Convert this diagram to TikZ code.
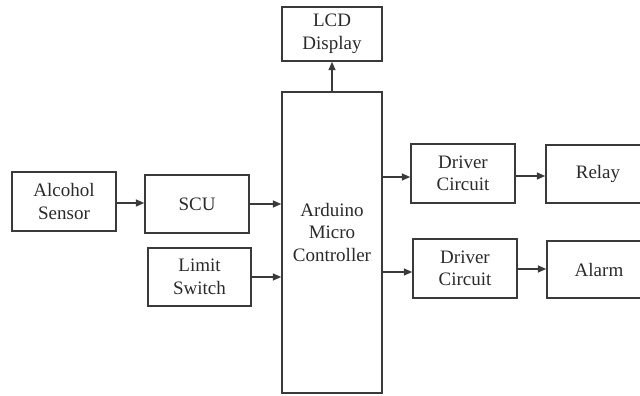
\documentclass[tikz,border=0pt]{standalone}
\usepackage{fontspec}
\setmainfont{Liberation Serif}
\usetikzlibrary{arrows.meta}
\definecolor{ln}{HTML}{3A3A3A}
\definecolor{tx}{HTML}{2A2A2A}
\begin{document}
\begin{tikzpicture}[x=1pt,y=-1pt,
  blk/.style={draw=ln,line width=1.5pt,rectangle,inner sep=0pt,align=center,
    text=tx,font=\fontsize{19}{22.5}\selectfont},
  conn/.style={draw=ln,line width=1.5pt,-{Triangle[length=8.5pt,width=7pt]}},
  lbl/.style={align=center,text=tx,font=\fontsize{19}{22.5}\selectfont,inner sep=0pt}]
\useasboundingbox (0,0) rectangle (640,396);
\clip (0,0) rectangle (640,396);
\node[blk,minimum width=104pt,minimum height=59pt] (alc) at (64,201.5) {Alcohol\\Sensor};
\node[blk,minimum width=104pt,minimum height=58pt] (scu) at (197,204) {SCU};
\node[blk,minimum width=103pt,minimum height=58pt] (lim) at (199.5,277) {Limit\\Switch};
\node[blk,minimum width=100pt,minimum height=54pt] (lcd) at (332,34) {LCD\\Display};
\node[blk,minimum width=100pt,minimum height=301pt] (ard) at (332,242.5) {};
\node[lbl] (ardtxt) at (332,232) {Arduino\\Micro\\Controller};
\node[blk,minimum width=104pt,minimum height=59pt] (drv1) at (463,173.5) {Driver\\Circuit};
\node[blk,minimum width=104pt,minimum height=58pt] (relay) at (598,174) {Relay};
\node[blk,minimum width=104pt,minimum height=59pt] (drv2) at (465,268.5) {Driver\\Circuit};
\node[blk,minimum width=104pt,minimum height=57pt] (alarm) at (599,269.5) {Alarm};
\draw[conn] ([yshift=-1.5pt]alc.east) -- ([yshift=-1.5pt]alc.east -| scu.west);
\draw[conn] (scu.east) -- (scu.east -| ard.west);
\draw[conn] (lim.east) -- (lim.east -| ard.west);
\draw[conn] (ard.north) -- (lcd.south);
\draw[conn] ([yshift=-3.5pt]drv1.west -| ard.east) -- ([yshift=-3.5pt]drv1.west);
\draw[conn] ([yshift=-2.5pt]drv1.east) -- ([yshift=-2.5pt]drv1.east -| relay.west);
\draw[conn] ([yshift=-3.5pt]drv2.west -| ard.east) -- ([yshift=-3.5pt]drv2.west);
\draw[conn] ([yshift=-0.5pt]drv2.east) -- ([yshift=-0.5pt]drv2.east -| alarm.west);
\end{tikzpicture}
\end{document}
